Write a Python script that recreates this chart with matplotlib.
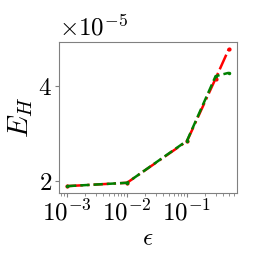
import numpy as np
import matplotlib
matplotlib.use("Agg")
import matplotlib.pyplot as plt

plt.rcParams['mathtext.fontset'] = 'cm'
plt.rcParams['font.family'] = 'serif'
plt.rcParams['font.serif'] = ['DejaVu Serif']

eps = [1e-3, 1e-2, 1e-1, 0.3, 0.5]
eh_red = [1.90, 1.97, 2.84, 4.15, 4.77]
eh_green = [1.90, 1.97, 2.85, 4.20, 4.27]
y_ticks = [2, 4]

fig = plt.figure(figsize=(2.62, 2.62), dpi=100)
ax = fig.add_axes([59 / 262, 69 / 262, 178 / 262, 151 / 262])

ax.plot(eps, eh_red, color='red', linestyle='-.', marker='.', markersize=4, linewidth=1.8)
ax.plot(eps, eh_green, color='green', linestyle='--', marker='.', markersize=3, linewidth=1.8)

ax.set_xscale('log')
ax.set_yticks(y_ticks)
ax.set_yticklabels([r'$%d$' % v for v in y_ticks])
ax.tick_params(labelsize=18, colors='gray', labelcolor='black', length=3, pad=2)
ax.tick_params(which='minor', colors='gray')
ax.set_xticks([1e-3, 1e-2, 1e-1])
ax.set_xticklabels([r'$10^{-3}$', r'$10^{-2}$', r'$10^{-1}$'])
ax.set_xlabel(r'$\epsilon$', fontsize=18, labelpad=1)
ax.set_ylabel(r'$E_H$', fontsize=21, labelpad=2)
ax.text(0.0, 1.01, r'$\times10^{-5}$', transform=ax.transAxes, fontsize=18,
        ha='left', va='bottom')
for s in ax.spines.values():
    s.set_color('gray')

fig.savefig('out.png', dpi=100)
